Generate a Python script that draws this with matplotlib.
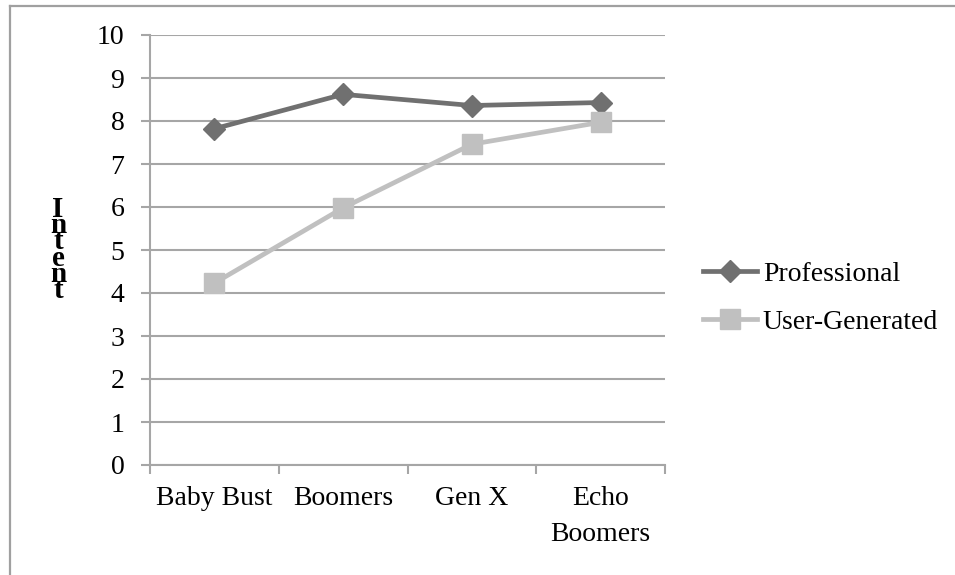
import matplotlib
matplotlib.use("Agg")
import matplotlib.pyplot as plt
from matplotlib.lines import Line2D

plt.rcParams['font.family'] = ['Liberation Serif', 'DejaVu Serif']
plt.rcParams['font.size'] = 20

groups = ["Baby Bust", "Boomers", "Gen X", "Echo\nBoomers"]
professional = [7.82, 8.62, 8.36, 8.43]
user_generated = [4.23, 5.98, 7.46, 7.97]
y_ticks = list(range(0, 11))

grid_gray = "#a6a6a6"

fig = plt.figure(figsize=(9.55, 5.75), dpi=100)
ax = fig.add_axes([150 / 955, 1 - 465 / 575, 515 / 955, 430 / 575])

x = list(range(len(groups)))
ax.plot(x, professional, color="#707070", lw=3.4, marker="D", ms=11,
        label="Professional", zorder=3)
ax.plot(x, user_generated, color="#c0c0c0", lw=3.4, marker="s", ms=14.5,
        label="User-Generated", zorder=4)

ax.set_xlim(-0.5, len(groups) - 0.5)
ax.set_ylim(0, 10)
ax.set_yticks(y_ticks)
ax.yaxis.grid(True, color=grid_gray, lw=1.5)
ax.set_axisbelow(True)

# category labels in the middle, tick marks on the boundaries
ax.set_xticks(x)
ax.set_xticklabels(groups, linespacing=1.6)
ax.set_xticks([i - 0.5 for i in range(len(groups) + 1)], minor=True)
ax.tick_params(axis="x", which="major", length=0, pad=15)
ax.tick_params(axis="x", which="minor", length=6.5, width=1.5, color=grid_gray)
ax.tick_params(axis="y", length=6.5, width=1.5, color=grid_gray, pad=12)

for side in ["top", "right"]:
    ax.spines[side].set_visible(False)
for side in ["left", "bottom"]:
    ax.spines[side].set_color(grid_gray)
    ax.spines[side].set_linewidth(1.5)

ax.set_ylabel("I\nn\nt\ne\nn\nt", rotation=0, fontweight="bold", fontsize=21,
              linespacing=0.48, labelpad=0, va="center", ha="center")
ax.yaxis.set_label_coords(-92 / 515, 0.5)

fig.legend(loc="center left", bbox_to_anchor=(703 / 955, 1 - 298 / 575),
           frameon=False, handlelength=1.95, handletextpad=0.2,
           labelspacing=0.8, borderpad=0, borderaxespad=0)

# outer chart border (left and top edges are inside the image)
fig.add_artist(Line2D([10 / 955, 10 / 955], [0, 1 - 5.5 / 575],
                      transform=fig.transFigure, color="#a0a0a0", lw=1.6))
fig.add_artist(Line2D([10 / 955, 1], [1 - 5.5 / 575, 1 - 5.5 / 575],
                      transform=fig.transFigure, color="#a0a0a0", lw=1.6))

fig.savefig("out.png", dpi=100, facecolor="white")
